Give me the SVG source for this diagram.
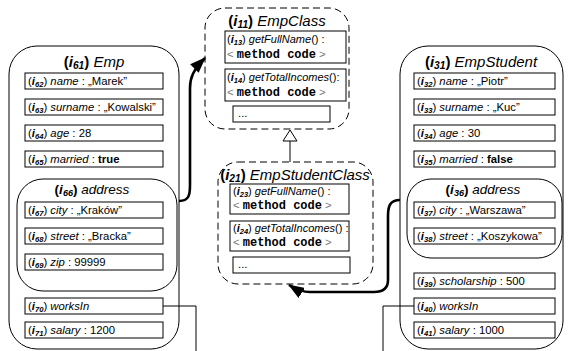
<svg xmlns="http://www.w3.org/2000/svg" width="568" height="351" viewBox="0 0 568 351">
<defs>
<style>
.obj{fill:#fff;stroke:#000;stroke-width:1}
.at{fill:#fff;stroke:#000;stroke-width:1}
.cls{fill:#fff;stroke:#000;stroke-width:1;stroke-dasharray:7 4}
.t{font-family:"Liberation Sans",Arial,sans-serif;font-size:11.3px;fill:#000}
.tt{font-family:"Liberation Sans",Arial,sans-serif;font-size:15px;fill:#000}
.ta{font-family:"Liberation Sans",Arial,sans-serif;font-size:13.5px;fill:#000}
.i{font-style:italic}
.b{font-weight:bold}
.bi{font-weight:bold;font-style:italic}
.s{font-size:0.68em;font-weight:bold;font-style:italic}
.mono{font-family:"Liberation Mono","Courier New",monospace;font-weight:bold;font-size:12px}
.lt{fill:#777}
.con{fill:none;stroke:#000;stroke-width:1}
.thick{fill:none;stroke:#000;stroke-width:2.6}
</style>
<marker id="ah" viewBox="0 0 16 12" refX="15" refY="6" markerWidth="16" markerHeight="12" orient="auto" markerUnits="userSpaceOnUse">
<path d="M0,0 L16,6 L0,12 z" fill="#000"/>
</marker>
</defs>
<rect width="568" height="351" fill="#fff"/>

<g id="emp">
<rect class="obj" x="9" y="46" width="170" height="303" rx="28"/>
<text class="tt" x="94" y="67" text-anchor="middle"><tspan class="b">(</tspan><tspan class="bi">i</tspan><tspan class="s" dy="2">61</tspan><tspan class="b" dy="-2">)</tspan> <tspan class="i">Emp</tspan></text>
<rect class="at" x="25" y="73" width="138" height="16"/>
<text class="t" x="28" y="85">(<tspan class="bi">i</tspan><tspan class="s" dy="2">62</tspan><tspan dy="-2">)</tspan> <tspan class="i">name</tspan> : „Marek”</text>
<rect class="at" x="25" y="99" width="138" height="16"/>
<text class="t" x="28" y="111">(<tspan class="bi">i</tspan><tspan class="s" dy="2">63</tspan><tspan dy="-2">)</tspan> <tspan class="i">surname</tspan> : „Kowalski”</text>
<rect class="at" x="25" y="125" width="138" height="16"/>
<text class="t" x="28" y="137">(<tspan class="bi">i</tspan><tspan class="s" dy="2">64</tspan><tspan dy="-2">)</tspan> <tspan class="i">age</tspan> : 28</text>
<rect class="at" x="25" y="151" width="138" height="16"/>
<text class="t" x="28" y="163">(<tspan class="bi">i</tspan><tspan class="s" dy="2">65</tspan><tspan dy="-2">)</tspan> <tspan class="i">married</tspan> : <tspan class="b">true</tspan></text>
<g id="emp-address">
<rect class="obj" x="17" y="179" width="160" height="112" rx="26"/>
<text class="ta" x="92" y="194" text-anchor="middle"><tspan class="b">(</tspan><tspan class="bi">i</tspan><tspan class="s" dy="2">66</tspan><tspan class="b" dy="-2">)</tspan> <tspan class="i">address</tspan></text>
<rect class="at" x="25" y="202" width="138" height="16"/>
<text class="t" x="28" y="214">(<tspan class="bi">i</tspan><tspan class="s" dy="2">67</tspan><tspan dy="-2">)</tspan> <tspan class="i">city</tspan> : „Kraków”</text>
<rect class="at" x="25" y="228" width="138" height="16"/>
<text class="t" x="28" y="240">(<tspan class="bi">i</tspan><tspan class="s" dy="2">68</tspan><tspan dy="-2">)</tspan> <tspan class="i">street</tspan> : „Bracka”</text>
<rect class="at" x="25" y="254" width="138" height="16"/>
<text class="t" x="28" y="266">(<tspan class="bi">i</tspan><tspan class="s" dy="2">69</tspan><tspan dy="-2">)</tspan> <tspan class="i">zip</tspan> : 99999</text>
</g>
<rect class="at" x="25" y="298" width="138" height="16"/>
<text class="t" x="28" y="310">(<tspan class="bi">i</tspan><tspan class="s" dy="2">70</tspan><tspan dy="-2">)</tspan> <tspan class="i">worksIn</tspan></text>
<rect class="at" x="25" y="322" width="138" height="16"/>
<text class="t" x="28" y="334">(<tspan class="bi">i</tspan><tspan class="s" dy="2">71</tspan><tspan dy="-2">)</tspan> <tspan class="i">salary</tspan> : 1200</text>
</g>

<g id="empstudent">
<rect class="obj" x="400" y="46" width="163" height="303" rx="28"/>
<text class="tt" x="481" y="67" text-anchor="middle"><tspan class="b">(</tspan><tspan class="bi">i</tspan><tspan class="s" dy="2">31</tspan><tspan class="b" dy="-2">)</tspan> <tspan class="i">EmpStudent</tspan></text>
<rect class="at" x="414" y="73" width="141" height="16"/>
<text class="t" x="417" y="85">(<tspan class="bi">i</tspan><tspan class="s" dy="2">32</tspan><tspan dy="-2">)</tspan> <tspan class="i">name</tspan> : „Piotr”</text>
<rect class="at" x="414" y="99" width="141" height="16"/>
<text class="t" x="417" y="111">(<tspan class="bi">i</tspan><tspan class="s" dy="2">33</tspan><tspan dy="-2">)</tspan> <tspan class="i">surname</tspan> : „Kuc”</text>
<rect class="at" x="414" y="125" width="141" height="16"/>
<text class="t" x="417" y="137">(<tspan class="bi">i</tspan><tspan class="s" dy="2">34</tspan><tspan dy="-2">)</tspan> <tspan class="i">age</tspan> : 30</text>
<rect class="at" x="414" y="151" width="141" height="16"/>
<text class="t" x="417" y="163">(<tspan class="bi">i</tspan><tspan class="s" dy="2">35</tspan><tspan dy="-2">)</tspan> <tspan class="i">married</tspan> : <tspan class="b">false</tspan></text>
<g id="empstudent-address">
<rect class="obj" x="407" y="179" width="155" height="79" rx="24"/>
<text class="ta" x="483" y="194" text-anchor="middle"><tspan class="b">(</tspan><tspan class="bi">i</tspan><tspan class="s" dy="2">36</tspan><tspan class="b" dy="-2">)</tspan> <tspan class="i">address</tspan></text>
<rect class="at" x="414" y="202" width="141" height="16"/>
<text class="t" x="417" y="214">(<tspan class="bi">i</tspan><tspan class="s" dy="2">37</tspan><tspan dy="-2">)</tspan> <tspan class="i">city</tspan> : „Warszawa”</text>
<rect class="at" x="414" y="228" width="141" height="16"/>
<text class="t" x="417" y="240">(<tspan class="bi">i</tspan><tspan class="s" dy="2">38</tspan><tspan dy="-2">)</tspan> <tspan class="i">street</tspan> : „Koszykowa”</text>
</g>
<rect class="at" x="414" y="273" width="141" height="16"/>
<text class="t" x="417" y="285">(<tspan class="bi">i</tspan><tspan class="s" dy="2">39</tspan><tspan dy="-2">)</tspan> <tspan class="i">scholarship</tspan> : 500</text>
<rect class="at" x="414" y="298" width="141" height="16"/>
<text class="t" x="417" y="310">(<tspan class="bi">i</tspan><tspan class="s" dy="2">40</tspan><tspan dy="-2">)</tspan> <tspan class="i">worksIn</tspan></text>
<rect class="at" x="414" y="322" width="141" height="16"/>
<text class="t" x="417" y="334">(<tspan class="bi">i</tspan><tspan class="s" dy="2">41</tspan><tspan dy="-2">)</tspan> <tspan class="i">salary</tspan> : 1000</text>
</g>

<g id="empclass">
<rect class="cls" x="205" y="8" width="144" height="121" rx="20"/>
<text class="tt" x="277" y="26" text-anchor="middle"><tspan class="b">(</tspan><tspan class="bi">i</tspan><tspan class="s" dy="2">11</tspan><tspan class="b" dy="-2">)</tspan> <tspan class="i">EmpClass</tspan></text>
<rect class="at" x="225" y="31" width="121" height="32"/>
<text class="t" x="227" y="43" style="font-size:11px">(<tspan class="bi">i</tspan><tspan class="s" dy="2">13</tspan><tspan dy="-2">)</tspan> <tspan class="i">getFullName</tspan>() :</text>
<text class="t" x="227" y="58"><tspan class="lt">&lt;</tspan> <tspan class="mono">method code</tspan> <tspan class="lt">&gt;</tspan></text>
<rect class="at" x="225" y="69" width="121" height="32"/>
<text class="t" x="227" y="81" style="font-size:11px">(<tspan class="bi">i</tspan><tspan class="s" dy="2">14</tspan><tspan dy="-2">)</tspan> <tspan class="i">getTotalIncomes</tspan>():</text>
<text class="t" x="227" y="96"><tspan class="lt">&lt;</tspan> <tspan class="mono">method code</tspan> <tspan class="lt">&gt;</tspan></text>
<rect class="at" x="233" y="106" width="97" height="16"/>
<text class="t" x="238" y="117">...</text>
</g>

<g id="empstudentclass">
<rect class="cls" x="218" y="162" width="155" height="122" rx="20"/>
<text class="tt" x="295" y="180" text-anchor="middle"><tspan class="b">(</tspan><tspan class="bi">i</tspan><tspan class="s" dy="2">21</tspan><tspan class="b" dy="-2">)</tspan> <tspan class="i">EmpStudentClass</tspan></text>
<rect class="at" x="230" y="184" width="119" height="30"/>
<text class="t" x="233" y="195" style="font-size:11px">(<tspan class="bi">i</tspan><tspan class="s" dy="2">23</tspan><tspan dy="-2">)</tspan> <tspan class="i">getFullName</tspan>() :</text>
<text class="t" x="233" y="209"><tspan class="lt">&lt;</tspan> <tspan class="mono">method code</tspan> <tspan class="lt">&gt;</tspan></text>
<rect class="at" x="230" y="221" width="119" height="30"/>
<text class="t" x="233" y="232" style="font-size:11px">(<tspan class="bi">i</tspan><tspan class="s" dy="2">24</tspan><tspan dy="-2">)</tspan> <tspan class="i">getTotalIncomes</tspan>() :</text>
<text class="t" x="233" y="246"><tspan class="lt">&lt;</tspan> <tspan class="mono">method code</tspan> <tspan class="lt">&gt;</tspan></text>
<rect class="at" x="233" y="257" width="117" height="16"/>
<text class="t" x="238" y="268">...</text>
</g>

<g id="connectors">
<path class="thick" d="M179,201 C189,201 190,195 190,185 L190,88 C190,78 193,70 205,58" marker-end="url(#ah)"/>
<path class="thick" d="M400,200 C390,200 388,206 388,216 L388,280 C388,288 384,292 374,292 L310,292 C302,292 297,290 289,285" marker-end="url(#ah)"/>
<path class="con" d="M163,306 H196 V351"/>
<path class="con" d="M414,306 H383 V351"/>
<path class="con" d="M290,162 V141"/>
<polygon points="290,130 283,141 297,141" fill="#fff" stroke="#000" stroke-width="1"/>
</g>
</svg>
